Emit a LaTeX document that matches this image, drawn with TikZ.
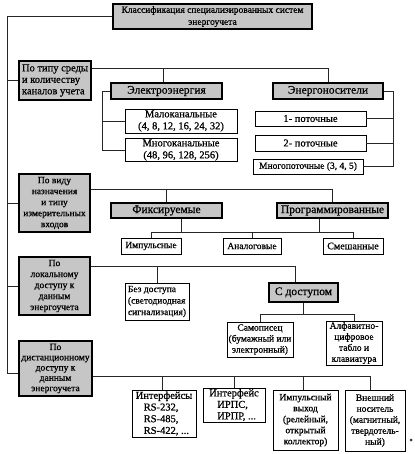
\documentclass[tikz,border=0pt]{standalone}
\usepackage{fontspec}
\setmainfont{Liberation Serif}
\newfontfamily\tnr{Liberation Serif}[FakeBold=0.7]
\definecolor{boxgray}{RGB}{198,198,198}
\newcommand\bx[7]{\node[#6, minimum width={#4-#2}, minimum height={#5-#3}] (#1) at ({(#2+#4)/2},{(#3+#5)/2}) {#7};}
\newcommand\fs[2]{\tnr\fontsize{#1}{#2}\selectfont}
\begin{document}
\begin{tikzpicture}[x=1pt,y=-1pt,
  catb/.style={draw, fill=boxgray, line width=1.6pt, inner sep=1pt, align=center, font=\fs{10}{11}},
  subb/.style={draw, fill=boxgray, line width=1.6pt, inner sep=1pt, align=center, font=\fs{11.5}{12}},
  leaf/.style={draw, fill=white, line width=0.9pt, inner sep=1pt, align=center, font=\fs{10.5}{12}},
  conn/.style={draw=black!85, line width=0.9pt}]
\useasboundingbox (0,0) rectangle (414,454);
% nodes
\bx{title}{113}{4}{312}{29}{catb,font=\fs{9.5}{12}}{Классификация специализированных систем\\энергоучета}
\bx{b1}{19}{61}{91}{100}{catb,align=left,font=\fs{10.5}{11.5}}{По типу среды\\и количеству\\каналов учета}
\bx{e1}{111}{83}{222}{99}{subb}{Электроэнергия}
\bx{e2}{273}{83}{383}{99}{subb}{Энергоносители}
\bx{m1}{125}{109}{237}{133}{leaf}{Малоканальные\\(4, 8, 12, 16, 24, 32)}
\bx{m2}{125}{139}{237}{161}{leaf}{Многоканальные\\(48, 96, 128, 256)}
\bx{n1}{255}{111}{366}{126}{leaf}{1- поточные}
\bx{n2}{255}{135}{366}{151}{leaf}{2- поточные}
\bx{n3}{253}{159}{363}{174}{leaf,font=\fs{9.5}{11}}{Многопоточные (3, 4, 5)}
\bx{b2}{19}{174}{90}{232}{catb,font=\fs{9.5}{11}}{По виду\\назначения\\и типу\\измерительных\\входов}
\bx{f1}{111}{203}{222}{218}{subb}{Фиксируемые}
\bx{p1}{277}{203}{388}{218}{subb}{Программированные}
\bx{i1}{121}{238}{181}{254}{leaf,font=\fs{9.5}{11}}{Импульсные}
\bx{a1}{223}{238}{281}{254}{leaf,font=\fs{9.5}{11}}{Аналоговые}
\bx{s1}{323}{238}{383}{254}{leaf,font=\fs{10}{11}}{Смешанные}
\bx{b3}{19}{257}{90}{315}{catb,font=\fs{9.5}{11}}{По\\локальному\\доступу к\\данным\\энергоучета}
\bx{bd}{125}{283}{189}{320}{leaf,align=left,font=\fs{9.5}{11.5}}{Без доступа\\(светодиодная\\сигнализация)}
\bx{cd}{269}{283}{338}{302}{subb}{С доступом}
\bx{sp}{227}{322}{293}{357}{leaf,font=\fs{9.5}{11}}{Самописец\\(бумажный или\\электронный)}
\bx{af}{326}{321}{382}{365}{leaf,font=\fs{9.5}{11}}{Алфавитно-\\цифровое\\табло и\\клавиатура}
\bx{b4}{19}{341}{92}{396}{catb,font=\fs{9.5}{10.3}}{По\\дистанционному\\доступу к\\данным\\энергоучета}
\bx{r1}{132}{390}{196}{437}{leaf,align=left,font=\fs{10.5}{11.7}}{Интерфейсы\\\hspace*{8pt}RS-232,\\\hspace*{8pt}RS-485,\\\hspace*{8pt}RS-422, ...}
\bx{r2}{203}{390}{265}{420}{leaf,align=left,font=\fs{10.5}{11.5}}{Интерфейс\\\hspace*{8pt}ИРПС,\\\hspace*{8pt}ИРПР, ...}
\bx{r3}{273}{390}{338}{450}{leaf,font=\fs{9.5}{11}}{Импульсный\\выход\\(релейный,\\открытый\\коллектор)}
\bx{r4}{345}{390}{405}{451}{leaf,font=\fs{9.5}{11}}{Внешний\\носитель\\(магнитный,\\твердотель-\\ный)}
% helper coordinates
\coordinate (spT) at (7,17);
\coordinate (spB) at (7,373);
\coordinate (h1) at (0,68);
\coordinate (e1x) at (163,0);
\coordinate (eL) at (102,0);
\coordinate (eR) at (393,0);
\coordinate (h2) at (0,189);
\coordinate (h2b) at (0,232);
\coordinate (fx) at (181,0);
\coordinate (px) at (319,0);
\coordinate (h3) at (0,266);
\coordinate (cdx) at (295,0);
\coordinate (h3b) at (0,314);
\coordinate (h4) at (0,376);
\coordinate (r1x) at (162,0);
\coordinate (r3x) at (303,0);
\coordinate (r4x) at (370,0);
% spine
\draw[conn] (title.west) -| (spB) -- (spB -| b4.west);
\draw[conn] (b1.west) -- (b1.west -| spT);
\draw[conn] (b2.west) -- (b2.west -| spT);
\draw[conn] (b3.west) -- (b3.west -| spT);
% group 1
\draw[conn] (b1.east |- h1) -| (e2.north);
\draw[conn] (e1.north -| e1x) -- (e1x |- h1);
\draw[conn] (e1.west) -| (m2.west -| eL) -- (m2.west);
\draw[conn] (m1.west) -- (m1.west -| eL);
\draw[conn] (e2.east) -| (n3.east -| eR) -- (n3.east);
\draw[conn] (n1.east) -- (n1.east -| eR);
\draw[conn] (n2.east) -- (n2.east -| eR);
% group 2
\draw[conn] (b2.east |- h2) -| (p1.north);
\draw[conn] (f1.north) -- (f1.north |- h2);
\draw[conn] (f1.south -| fx) -- (fx |- h2b);
\draw[conn] (p1.south -| px) -- (px |- h2b);
\draw[conn] (i1.north) |- (h2b -| s1.north) -- (s1.north);
\draw[conn] (a1.north) -- (a1.north |- h2b);
% group 3
\draw[conn] (b3.east |- h3) -| (cd.north -| cdx);
\draw[conn] (bd.north) -- (bd.north |- h3);
\draw[conn] (cd.south) -- (cd.south |- h3b);
\draw[conn] (sp.north) |- (af.north |- h3b) -- (af.north);
% group 4
\draw[conn] (b4.east |- h4) -| (r4.north -| r4x);
\draw[conn] (r1.north -| r1x) -- (r1x |- h4);
\draw[conn] (r2.north) -- (r2.north |- h4);
\draw[conn] (r3.north -| r3x) -- (r3x |- h4);
% stray dot
\fill[black!80] (411,440) circle[radius=1.5pt];
\end{tikzpicture}
\end{document}
